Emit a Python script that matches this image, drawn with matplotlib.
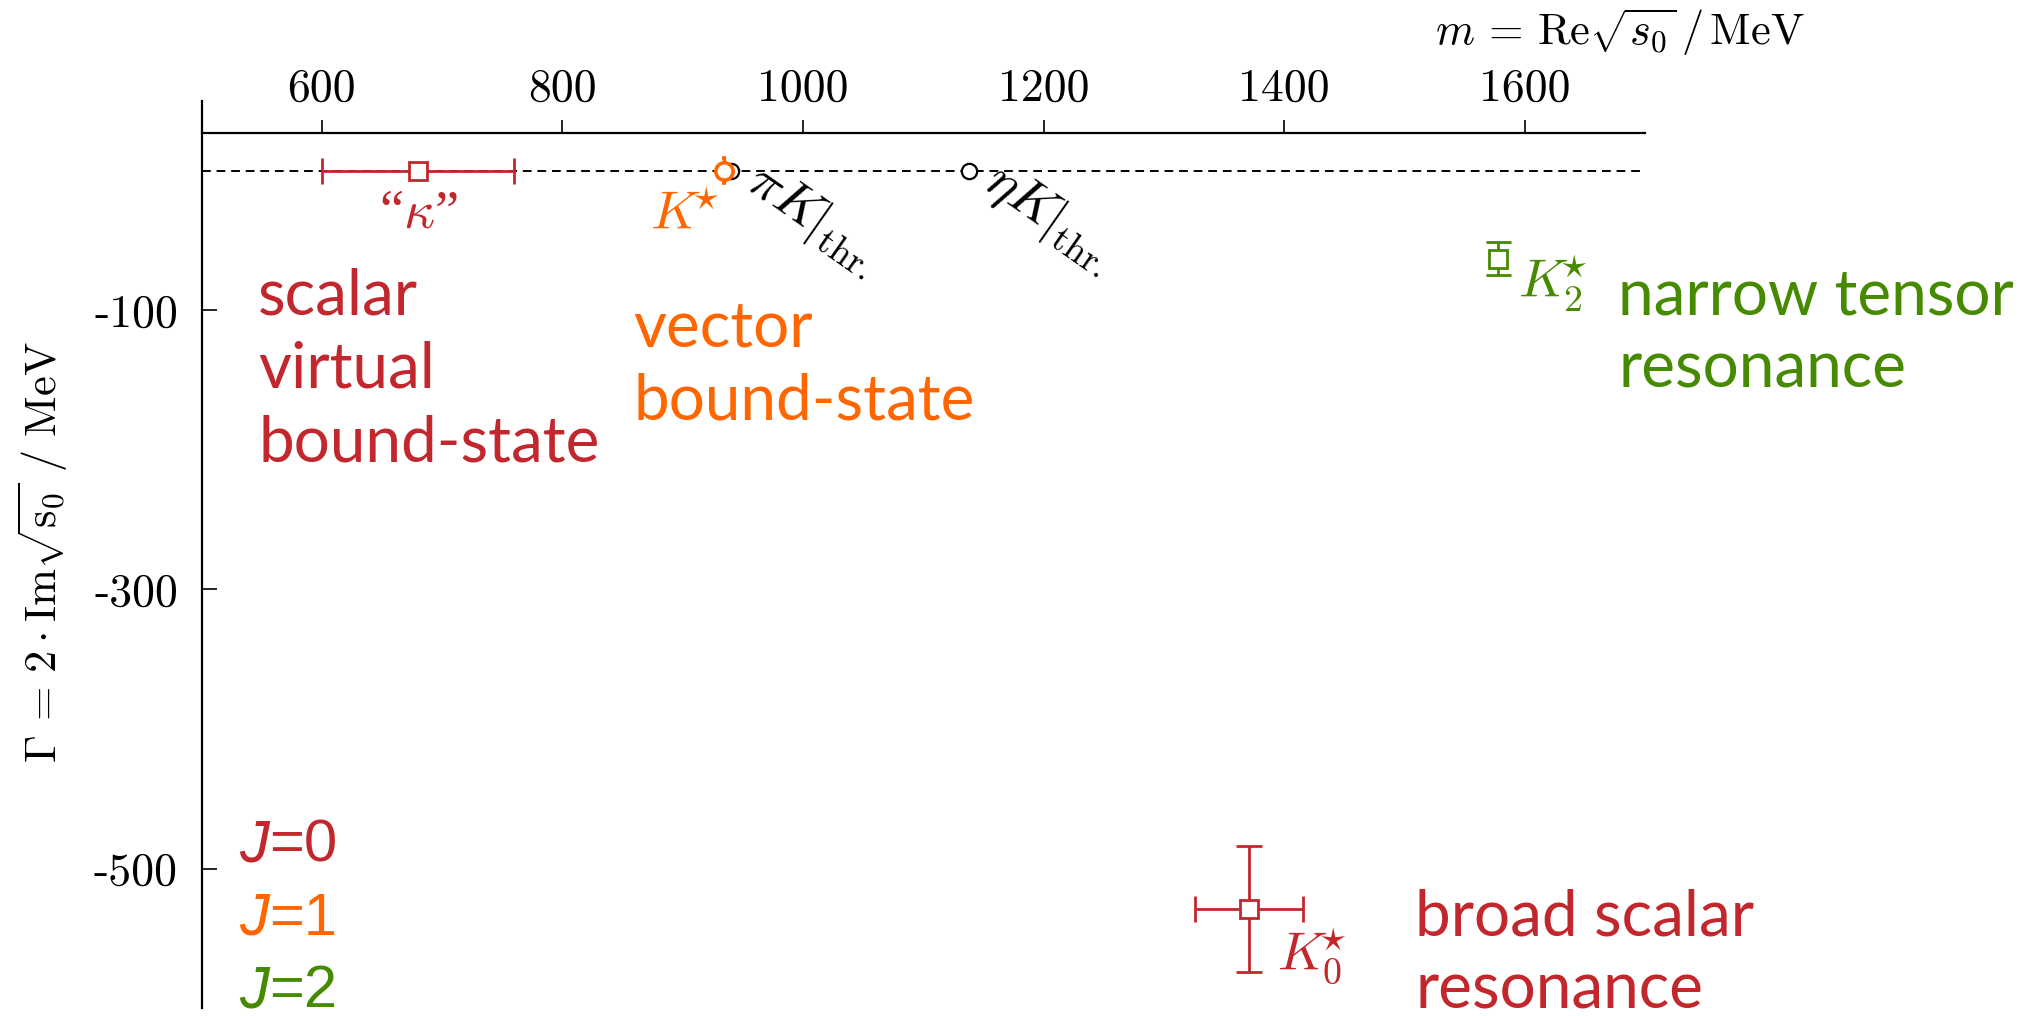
import matplotlib
matplotlib.use("Agg")
import matplotlib.pyplot as plt

plt.rcParams['mathtext.fontset'] = 'cm'

# Pole positions in the complex sqrt(s) plane (MeV)
kappa_m, kappa_m_err, kappa_gamma = 680, 80, 0
kstar_m, kstar_gamma, kstar_gamma_err = 934, 0, 9
k0_m, k0_m_err, k0_gamma, k0_gamma_err = 1371, 45, -529, 45
k2_m, k2_gamma, k2_gamma_err = 1578, -63, 12

# Two-meson thresholds on the real axis (MeV)
thresholds = [940, 1138]
threshold_labels = [r'$\left.\pi K^{\ }_{\ }\!\!\!\right|_{\mathrm{thr.}}$',
                    r'$\left.\eta K^{\ }_{\ }\!\!\!\right|_{\mathrm{thr.}}$']

xticks = [600, 800, 1000, 1200, 1400, 1600]
yticks = [-100, -300, -500]

RED = '#c1272d'
ORANGE = '#ff6600'
GREEN = '#468a00'
SANS = 'Lato'

W, H = 2026, 1016
fig = plt.figure(figsize=(W / 100, H / 100), dpi=100)
ax = fig.add_axes([201.6 / W, 1 - 1008.3 / H, (1645 - 201.6) / W, (1008.3 - 100.9) / H])
ax.set_xlim(500, 1700)
ax.set_ylim(-600, 50)
ax.patch.set_visible(False)

for s in ('right', 'bottom'):
    ax.spines[s].set_visible(False)
ax.spines['top'].set_position(('data', 27))
for s in ('top', 'left'):
    ax.spines[s].set_linewidth(1.6)

ax.xaxis.set_ticks_position('top')
ax.set_xticks(xticks)
ax.set_xticklabels([str(v) for v in xticks], family='cmr10', fontsize=33)
ax.set_yticks(yticks)
ax.set_yticklabels([str(v) for v in yticks], family='cmr10', fontsize=33)
ax.tick_params(axis='x', direction='out', length=9.4, width=1.2, pad=7)
ax.tick_params(axis='y', direction='in', length=10.8, width=1.2, pad=17)

# real axis
ax.axhline(0, color='black', lw=1.4, ls=(0, (4.5, 3)), zorder=1)

# thresholds
ax.plot(thresholds, [0] * len(thresholds), 'o', ls='none', mfc='white', mec='black',
        ms=11, mew=1.6, zorder=2)
for t, lab in zip(thresholds, threshold_labels):
    ax.text(t + 11, -12, lab, rotation=-35, rotation_mode='anchor',
            ha='left', va='baseline', fontsize=39, color='black')

# J=0 virtual bound state
ax.errorbar(kappa_m, kappa_gamma, xerr=kappa_m_err, fmt='s', color=RED, mfc='white',
            mec=RED, ms=12.5, mew=2, elinewidth=2, capsize=9.7, capthick=2, zorder=3)
ax.text(kappa_m, -41, '\u201c$\\kappa$\u201d', color=RED, ha='center', va='baseline',
        fontsize=39, family='Liberation Serif')

# J=1 bound state
ax.errorbar(kstar_m, kstar_gamma, yerr=kstar_gamma_err, fmt='o', color=ORANGE, mfc='white',
            mec=ORANGE, ms=12.5, mew=2.6, elinewidth=2.5, capsize=1.5, capthick=2.5, zorder=4)
ax.text(931, -42.6, r'$K^{\!\!\!\star}$', color=ORANGE, ha='right', va='baseline', fontsize=39)

# J=0 resonance
ax.errorbar(k0_m, k0_gamma, xerr=k0_m_err, yerr=k0_gamma_err, fmt='s', color=RED,
            mfc='white', mec=RED, ms=12.5, mew=2, elinewidth=2, capsize=9.7, capthick=2,
            zorder=3)
ax.text(1393.8, -572.6, r'$K_0^{\!\!\!\star}$', color=RED, ha='left', va='baseline', fontsize=39)

# J=2 resonance
ax.errorbar(k2_m, k2_gamma, yerr=k2_gamma_err, fmt='s', color=GREEN, mfc='white',
            mec=GREEN, ms=12.5, mew=2, elinewidth=2, capsize=9, capthick=2, zorder=3)
ax.text(1594.5, -91.2, r'$K_2^{\!\!\!\star}$', color=GREEN, ha='left', va='baseline', fontsize=39)


def block(x, y0, lines, color, dy=52.8):
    for i, line in enumerate(lines):
        ax.text(x, y0 - i * dy, line, color=color, ha='left', va='baseline',
                fontsize=46, family=SANS)


block(547, -102.7, ['scalar', 'virtual', 'bound-state'], RED)
block(858.7, -125.6, ['vector', 'bound-state'], ORANGE)
block(1677.6, -102.7, ['narrow tensor', 'resonance'], GREEN)
block(1508.8, -547.5, ['broad scalar', 'resonance'], RED)

# spin legend
for i, (j, col) in enumerate([(0, RED), (1, ORANGE), (2, GREEN)]):
    tj = ax.text(531, -495 - i * 52.2, 'J', color=col, ha='left', va='baseline',
                 fontsize=43, family='Liberation Sans', style='italic')
    ax.annotate(f'={j}', xy=(1, 0), xycoords=tj, ha='left', va='bottom', color=col,
                fontsize=43, family='Liberation Sans')

fig.text(1620 / W, 1 - 45 / H, r'$m\,=\,\mathrm{Re}\sqrt{s_0}\,/\,\mathrm{MeV}$',
         ha='center', va='baseline', fontsize=32)
fig.text(43 / W, 1 - 552 / H, r'$\Gamma\,=\,2\cdot\mathrm{Im}\sqrt{\mathrm{s}_0}\ /\ \mathrm{MeV}$',
         ha='center', va='center', rotation=90, fontsize=32)

fig.savefig('out.png', dpi=100)
